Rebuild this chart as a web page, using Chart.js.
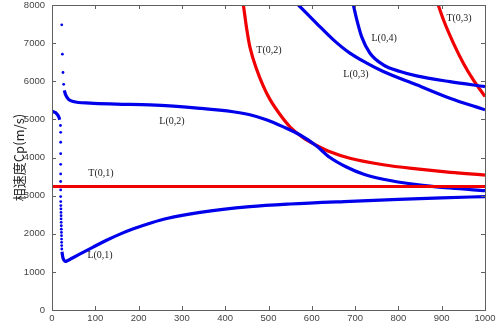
<!DOCTYPE html>
<html>
<head>
<meta charset="utf-8">
<script src="https://cdn.jsdelivr.net/npm/chart.js@4.4.0/dist/chart.umd.min.js"></script>
<style>
  html, body { margin: 0; padding: 0; background: #fff; }
  #wrap { width: 500px; height: 326px; position: relative; }
</style>
</head>
<body>
<div id="wrap"><canvas id="dispersion"></canvas></div>
<script>
// frequency (kHz) / phase velocity (m/s) for each guided mode
const l01Freq = [0, 5, 10, 15, 18];
const l01Cp = [5210, 5190, 5160, 5080, 4990];
const l01DotFreq = [19.5, 20, 20, 20, 20, 20, 20, 20, 20, 20.2, 20.4, 20.6, 20.8, 21, 21, 21.2, 21.4, 21.6, 21.8, 22, 22, 22.2, 22.4, 22.6];
const l01DotCp = [4840, 4660, 4400, 4100, 3820, 3570, 3370, 3150, 2975, 2845, 2740, 2650, 2560, 2475, 2390, 2300, 2210, 2120, 2035, 1950, 1860, 1775, 1690, 1600];
const l01LowFreq = [23, 25, 28, 31, 35, 45, 65, 95, 126, 157, 188, 230, 265, 342, 457, 550, 688, 800, 900, 1000];
const l01LowCp = [1530, 1380, 1300, 1275, 1290, 1350, 1470, 1650, 1830, 1990, 2130, 2290, 2400, 2560, 2710, 2780, 2850, 2900, 2940, 2975];

const l02DotFreq = [22.5, 24, 25.4, 27];
const l02DotCp = [7480, 6710, 6230, 5920];
const l02Freq = [28.4, 31.6, 37.7, 49, 88, 149, 226, 342, 418, 457, 495, 533, 573, 611, 642, 680, 720, 765, 842, 919, 1000];
const l02Cp = [5760, 5640, 5530, 5470, 5425, 5400, 5380, 5290, 5200, 5120, 4990, 4810, 4590, 4300, 4000, 3750, 3560, 3430, 3290, 3200, 3130];

const l03Freq = [569, 611, 650, 688, 727, 765, 842, 919, 1000];
const l03Cp = [8000, 7520, 7086, 6737, 6475, 6255, 5906, 5556, 5250];

const l04Freq = [696, 704, 715, 734, 765, 804, 842, 919, 1000];
const l04Cp = [8000, 7610, 7170, 6740, 6430, 6255, 6140, 5990, 5860];

const t01Freq = [0, 1000];
const t01Cp = [3240, 3240];

const t02Freq = [442, 450, 457, 473, 488, 503, 527, 550, 580, 611, 642, 688, 765, 842, 920, 1000];
const t02Cp = [8000, 7350, 6900, 6300, 5870, 5530, 5120, 4800, 4520, 4320, 4150, 3980, 3810, 3700, 3610, 3540];

const t03Freq = [892, 904, 927, 950, 973, 1000];
const t03Cp = [8000, 7612, 7000, 6475, 6037, 5600];

// mode names and where they are written
const modeNames = ['L(0,1)', 'L(0,2)', 'T(0,1)', 'T(0,2)', 'L(0,3)', 'L(0,4)', 'T(0,3)'];
const nameFreq = [111, 277, 113, 501, 702, 767, 940];
const nameCp = [1420, 4940, 3580, 6820, 6170, 7130, 7640];

const BLUE = 'rgb(0,0,235)';
const RED = 'rgb(240,0,0)';

const pts = (xs, ys) => xs.map((x, i) => ({ x, y: ys[i] }));

function curve(xs, ys, color) {
  return {
    data: pts(xs, ys),
    showLine: true,
    borderColor: color,
    backgroundColor: color,
    borderWidth: 3.2,
    pointRadius: 0,
    cubicInterpolationMode: 'monotone'
  };
}

function dots(xs, ys, color) {
  return {
    data: pts(xs, ys),
    showLine: false,
    backgroundColor: color,
    borderColor: color,
    borderWidth: 0,
    pointRadius: 1.4
  };
}

// box round the plot, inward ticks on all four sides, mode names
const framePlugin = {
  id: 'frame',
  afterDatasetsDraw(chart) {
    const { ctx, chartArea: a, scales: { x, y } } = chart;
    ctx.save();
    ctx.strokeStyle = '#606060';
    ctx.lineWidth = 1;
    ctx.strokeRect(a.left + 0.5, a.top + 0.5, a.right - a.left, a.bottom - a.top);
    ctx.beginPath();
    x.ticks.forEach(t => {
      const px = Math.round(x.getPixelForValue(t.value)) + 0.5;
      ctx.moveTo(px, a.bottom); ctx.lineTo(px, a.bottom - 4);
      ctx.moveTo(px, a.top); ctx.lineTo(px, a.top + 4);
    });
    y.ticks.forEach(t => {
      const py = Math.round(y.getPixelForValue(t.value)) + 0.5;
      ctx.moveTo(a.left, py); ctx.lineTo(a.left + 4, py);
      ctx.moveTo(a.right, py); ctx.lineTo(a.right - 4, py);
    });
    ctx.stroke();

    ctx.fillStyle = '#222';
    ctx.font = '10px "Liberation Serif", serif';
    ctx.textAlign = 'center';
    ctx.textBaseline = 'middle';
    modeNames.forEach((name, i) => {
      ctx.fillText(name, x.getPixelForValue(nameFreq[i]), y.getPixelForValue(nameCp[i]));
    });
    ctx.restore();
  }
};

const tickFont = { family: '"Liberation Sans Narrow", "Liberation Sans", Arial, sans-serif', size: 9.5 };

new Chart(document.getElementById('dispersion'), {
  type: 'scatter',
  data: {
    datasets: [
      curve(t01Freq, t01Cp, RED),
      curve(l01Freq, l01Cp, BLUE),
      dots(l01DotFreq, l01DotCp, BLUE),
      curve(l01LowFreq, l01LowCp, BLUE),
      dots(l02DotFreq, l02DotCp, BLUE),
      curve(l02Freq, l02Cp, BLUE),
      curve(l03Freq, l03Cp, BLUE),
      curve(l04Freq, l04Cp, BLUE),
      curve(t02Freq, t02Cp, RED),
      curve(t03Freq, t03Cp, RED)
    ]
  },
  options: {
    responsive: true,
    maintainAspectRatio: false,
    animation: false,
    layout: { padding: { top: 5, right: 15, left: 0, bottom: 0 } },
    plugins: {
      legend: { display: false },
      tooltip: { enabled: false }
    },
    scales: {
      x: {
        type: 'linear',
        min: 0,
        max: 1000,
        grid: { display: false, drawTicks: false },
        border: { display: false },
        ticks: { stepSize: 100, padding: 3, font: tickFont, color: '#444', maxRotation: 0, callback: v => String(v) },
        afterFit: s => { s.height = 16; s.paddingLeft = 0; s.paddingRight = 0; }
      },
      y: {
        min: 0,
        max: 8000,
        grid: { display: false, drawTicks: false },
        border: { display: false },
        ticks: { stepSize: 1000, padding: 7, font: tickFont, color: '#444', callback: v => String(v) },
        title: {
          display: true,
          text: '相速度Cp(m/s)',
          color: '#222',
          font: { family: '"Noto Sans CJK SC", "Noto Sans", sans-serif', size: 13 },
          padding: { top: 11, bottom: 0 }
        },
        afterFit: s => { s.width = 52; s.paddingTop = 0; s.paddingBottom = 0; }
      }
    }
  },
  plugins: [framePlugin]
});
</script>
</body>
</html>
